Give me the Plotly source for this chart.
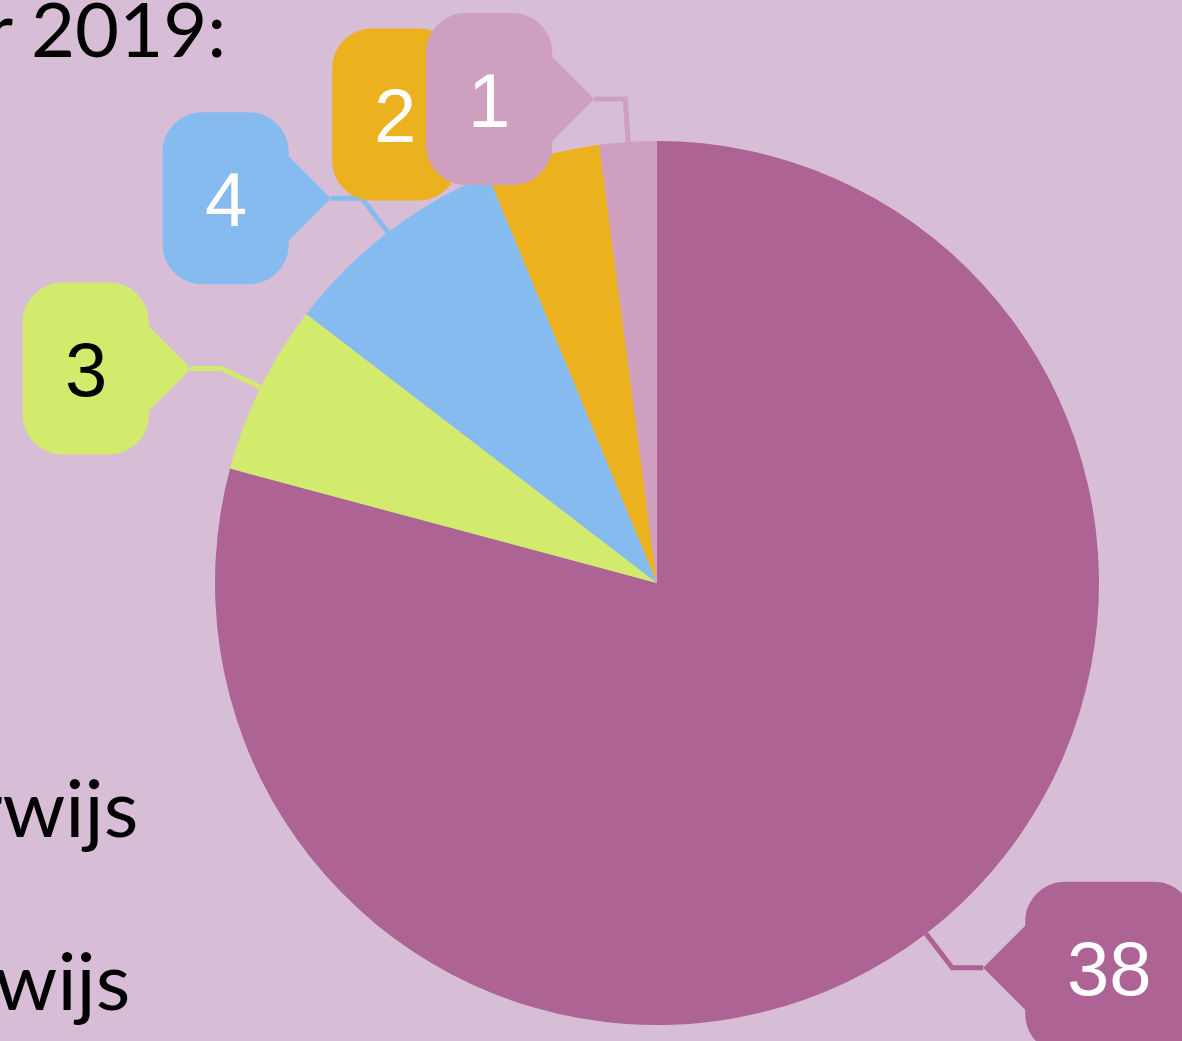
import math
import plotly.graph_objects as go

# ---- data ----
categories = ["Basisonderwijs", "Speciaal onderwijs", "Voortgezet onderwijs",
              "Middelbaar beroepsonderwijs", "Hoger onderwijs"]
values = [38, 3, 4, 2, 1]
colors = ["#AD6494", "#D3EB6C", "#86BBEF", "#EBB11F", "#CF9FC0"]
label_font_colors = ["#FFFFFF", "#000000", "#FFFFFF", "#FFFFFF", "#FFFFFF"]
title_text = "Aantal scholen per 1 oktober 2019:"
legend_texts = ["Basisonderwijs", "Voortgezet onderwijs"]

# ---- layout constants (pixels) ----
W, H = 1182, 1041
CX, CY, R = 657, 583, 442
BG = "#D8BDD7"
LBL_DIST = 43      # radial distance of connector elbow beyond pie edge
CONN_H = 31        # horizontal connector length
PTR = 42           # callout pointer length
BOX_H = 172
CORNER = 40
PAD = 42
FS = 76
K = 0.5523


def px(x):
    return x / W


def py(y):
    return 1 - y / H


def P(x, y):
    return f"{px(x):.6f},{py(y):.6f}"


def callout_path(xa, xb, y0, y1, tipx, tipy, ptr_right):
    """Rounded box xa<xb, y0<y1 (pixel, y down), pointer on right edge if ptr_right."""
    r = CORNER
    k = K * r
    parts = [f"M{P(xa + r, y0)}", f"L{P(xb - r, y0)}",
             f"C{P(xb - r + k, y0)} {P(xb, y0 + r - k)} {P(xb, y0 + r)}"]
    if ptr_right:
        parts += [f"L{P(xb, tipy - PTR)}", f"L{P(tipx, tipy)}", f"L{P(xb, tipy + PTR)}"]
    parts += [f"L{P(xb, y1 - r)}",
              f"C{P(xb, y1 - r + k)} {P(xb - r + k, y1)} {P(xb - r, y1)}",
              f"L{P(xa + r, y1)}",
              f"C{P(xa + r - k, y1)} {P(xa, y1 - r + k)} {P(xa, y1 - r)}"]
    if not ptr_right:
        parts += [f"L{P(xa, tipy + PTR)}", f"L{P(tipx, tipy)}", f"L{P(xa, tipy - PTR)}"]
    parts += [f"L{P(xa, y0 + r)}",
              f"C{P(xa, y0 + r - k)} {P(xa + r - k, y0)} {P(xa + r, y0)}", "Z"]
    return " ".join(parts)


fig = go.Figure()
fig.add_trace(go.Pie(
    labels=categories, values=values, sort=False, direction="clockwise", rotation=0,
    marker=dict(colors=colors, line=dict(width=0)), textinfo="none",
    hoverinfo="label+value", showlegend=False,
    domain=dict(x=[px(CX - R), px(CX + R)], y=[py(CY + R), py(CY - R)]),
))

shapes = []
annotations = []
total = sum(values)
cum = 0
for v, c, fc in zip(values, colors, label_font_colors):
    theta = math.radians((cum + v / 2) / total * 360)
    cum += v
    s, co = math.sin(theta), math.cos(theta)
    side = 1 if s > 0 else -1
    ax, ay = CX + R * s, CY - R * co
    ex, ey = CX + (R + LBL_DIST) * s, CY - (R + LBL_DIST) * co
    tx, ty = ex + side * CONN_H, ey
    shapes.append(dict(type="path", xref="paper", yref="paper", layer="above",
                       path=f"M{P(ax, ay)} L{P(ex, ey)} L{P(tx, ty)}",
                       line=dict(color=c, width=5)))
    text = str(v)
    bw = 2 * PAD + len(text) * 0.556 * FS
    near = tx + side * PTR
    far = near + side * bw
    xa, xb = min(near, far), max(near, far)
    shapes.append(dict(type="path", xref="paper", yref="paper", layer="above",
                       path=callout_path(xa, xb, ty - BOX_H / 2, ty + BOX_H / 2, tx, ty,
                                         ptr_right=(side < 0)),
                       fillcolor=c, line=dict(width=0)))
    annotations.append(dict(x=px((xa + xb) / 2), y=py(ty + 1), xref="paper", yref="paper",
                            text=text, showarrow=False, xanchor="center", yanchor="middle",
                            font=dict(family="Liberation Sans, Arial", size=FS, color=fc)))

# title (cropped at the left edge)
annotations.append(dict(x=px(228), y=py(28), xref="paper", yref="paper", text=title_text,
                        showarrow=False, xanchor="right", yanchor="middle",
                        font=dict(family="Lato", size=FS, color="#000000")))
# legend texts (cropped at the left edge)
for t, xr, yc in zip(legend_texts, [140, 132], [806, 979]):
    annotations.append(dict(x=px(xr), y=py(yc), xref="paper", yref="paper", text=t,
                            showarrow=False, xanchor="right", yanchor="middle",
                            font=dict(family="Lato", size=80, color="#000000")))

fig.update_layout(
    width=W, height=H, margin=dict(l=0, r=0, t=0, b=0),
    paper_bgcolor=BG, plot_bgcolor=BG,
    shapes=shapes, annotations=annotations, showlegend=False,
)
fig.write_html(
    "out.html",
    config={"displayModeBar": False},
    post_script=("document.body.style.margin='0';"
                 "document.body.style.background='" + BG + "';"
                 "document.body.style.overflow='hidden';"),
)
